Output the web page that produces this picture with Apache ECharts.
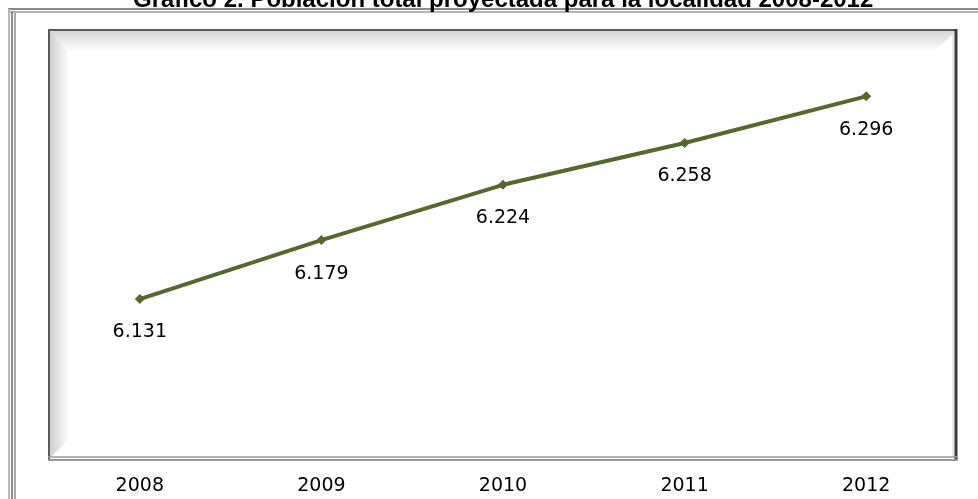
<!DOCTYPE html>
<html>
<head>
<meta charset="utf-8">
<script src="https://cdn.jsdelivr.net/npm/echarts@6/dist/echarts.min.js"></script>
<style>
  html, body { margin: 0; padding: 0; background: #fff; }
  #chart { width: 978px; height: 499px; }
</style>
</head>
<body>
<div id="chart"></div>
<script>
// datos
const years = ["2008", "2009", "2010", "2011", "2012"];
const poblacion = [6131, 6179, 6224, 6258, 6296];
const titulo = "Gráfico 2. Población total proyectada para la localidad 2008-2012";

// 6131 -> "6.131"
function fmt(v) {
  return String(v).replace(/(\d)(\d{3})$/, "$1.$2");
}

const chart = echarts.init(document.getElementById("chart"));

const bevelLeft = {
  type: "linear", x: 0, y: 0, x2: 1, y2: 0,
  colorStops: [{ offset: 0, color: "#cfcfcf" }, { offset: 1, color: "#ffffff" }]
};
const bevelTop = {
  type: "linear", x: 0, y: 0, x2: 0, y2: 1,
  colorStops: [{ offset: 0, color: "#d6d6d6" }, { offset: 1, color: "#ffffff" }]
};

const option = {
  animation: false,
  title: {
    text: titulo,
    left: 128,
    top: -17,
    textStyle: {
      fontFamily: "Liberation Sans",
      fontWeight: "bold",
      fontSize: 24,
      color: "#000"
    }
  },
  graphic: [
    // marco exterior (líneas dobles)
    { type: "line", shape: { x1: 8, y1: 9, x2: 978, y2: 9 }, style: { stroke: "#8a8a8a", lineWidth: 2 } },
    { type: "line", shape: { x1: 10, y1: 12, x2: 978, y2: 12 }, style: { stroke: "#b5b5b5", lineWidth: 2 } },
    { type: "line", shape: { x1: 9, y1: 9, x2: 9, y2: 499 }, style: { stroke: "#b8b8b8", lineWidth: 2 } },
    { type: "line", shape: { x1: 12, y1: 11, x2: 12, y2: 499 }, style: { stroke: "#8a8a8a", lineWidth: 2 } },
    { type: "line", shape: { x1: 15, y1: 13, x2: 15, y2: 499 }, style: { stroke: "#a8a8a8", lineWidth: 2 } },
    // caja del área de trazado con bisel
    { type: "polygon", shape: { points: [[50, 31], [956, 31], [934, 52], [70, 52]] }, style: { fill: bevelTop } },
    { type: "polygon", shape: { points: [[50, 31], [70, 52], [70, 438], [50, 458]] }, style: { fill: bevelLeft } },
    { type: "line", shape: { x1: 48, y1: 30, x2: 957, y2: 30 }, style: { stroke: "#5a5a5a", lineWidth: 2 } },
    { type: "line", shape: { x1: 49, y1: 29, x2: 49, y2: 461 }, style: { stroke: "#5a5a5a", lineWidth: 2 } },
    { type: "line", shape: { x1: 956, y1: 29, x2: 956, y2: 461 }, style: { stroke: "#3a3a3a", lineWidth: 3 } },
    { type: "line", shape: { x1: 953, y1: 33, x2: 953, y2: 457 }, style: { stroke: "#d0d0d0", lineWidth: 1 } },
    { type: "line", shape: { x1: 48, y1: 457, x2: 957, y2: 457 }, style: { stroke: "#9a9a9a", lineWidth: 1.5 } },
    { type: "line", shape: { x1: 48, y1: 460, x2: 957, y2: 460 }, style: { stroke: "#9a9a9a", lineWidth: 2 } }
  ],
  grid: { left: 49, right: 21, top: 30, bottom: 39 },
  xAxis: {
    type: "category",
    data: years,
    axisLine: { show: false },
    axisTick: { show: false },
    axisLabel: {
      margin: 17,
      fontFamily: "DejaVu Sans",
      fontSize: 19,
      color: "#000"
    }
  },
  yAxis: {
    type: "value",
    min: 6000,
    max: 6350,
    show: false,
    splitLine: { show: false }
  },
  series: [
    {
      type: "line",
      data: poblacion,
      symbol: "diamond",
      symbolSize: 10,
      color: "#56682e",
      lineStyle: { color: "#56682e", width: 4 },
      label: {
        show: true,
        position: "bottom",
        distance: 19,
        fontFamily: "DejaVu Sans",
        fontSize: 19,
        color: "#000",
        formatter: p => fmt(p.value)
      }
    }
  ]
};

chart.setOption(option);
</script>
</body>
</html>
